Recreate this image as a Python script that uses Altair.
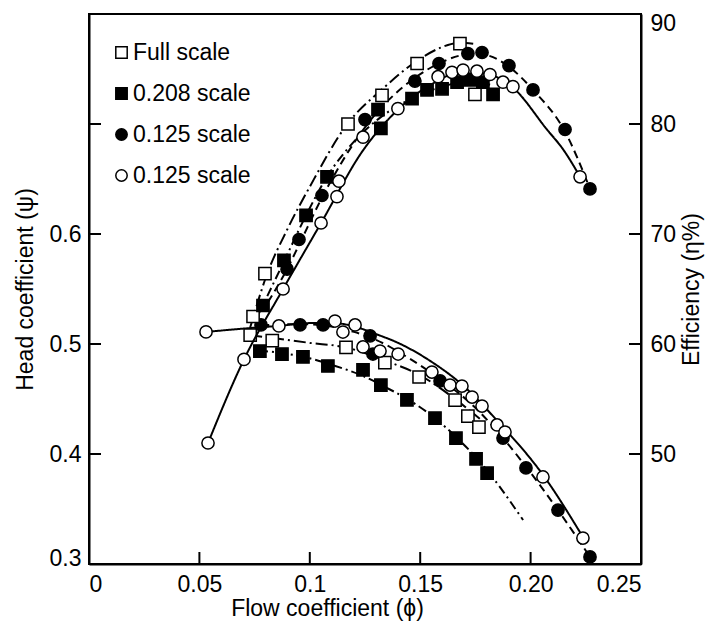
import altair as alt
import pandas as pd

FONT = "Liberation Sans"

# ---------------- series names ----------------
SERIES = ["Full scale", "0.208 scale", "0.125 scale", "0.125 scale "]
DASHES = [[12, 4, 2, 4], [9, 4, 2, 4], [8, 5], [1, 0]]

# ---------------- efficiency markers (right axis, %) ----------------
fs_eff_phi = [0.0743, 0.0797, 0.1173, 0.1327, 0.1486, 0.168, 0.1748]
fs_eff_val = [62.5, 66.4, 80.0, 82.6, 85.5, 87.3, 82.7]
s2_eff_phi = [0.0788, 0.0883, 0.0983, 0.1078, 0.1309, 0.1322, 0.1463, 0.1531, 0.1599, 0.1667, 0.1726, 0.1784, 0.183]
s2_eff_val = [63.5, 67.6, 71.7, 75.2, 81.3, 79.6, 82.3, 83.1, 83.2, 83.8, 84.0, 83.8, 82.7]
cf_eff_phi = [0.0897, 0.0951, 0.1055, 0.125, 0.1476, 0.1585, 0.1716, 0.178, 0.1902, 0.2011, 0.2156, 0.2269]
cf_eff_val = [66.8, 69.5, 73.5, 80.4, 83.9, 85.5, 86.4, 86.5, 85.3, 83.1, 79.5, 74.1]
co_eff_phi = [0.0539, 0.0702, 0.0879, 0.1051, 0.1123, 0.1132, 0.1241, 0.1399, 0.1581, 0.1644, 0.1694, 0.1757, 0.1816, 0.1875, 0.192, 0.2224]
co_eff_val = [51.0, 58.6, 65.0, 71.0, 73.4, 74.8, 78.8, 81.4, 84.3, 84.7, 84.9, 84.8, 84.5, 83.8, 83.4, 75.2]

# ---------------- head markers (left axis) ----------------
fs_head_phi = [0.073, 0.083, 0.1164, 0.134, 0.1495, 0.1658, 0.1716, 0.1766]
fs_head_val = [0.508, 0.503, 0.497, 0.483, 0.470, 0.449, 0.4345, 0.4245]
s2_head_phi = [0.0774, 0.0874, 0.0969, 0.1082, 0.1241, 0.1322, 0.144, 0.1567, 0.1662, 0.1753, 0.1803]
s2_head_val = [0.4936, 0.4909, 0.4882, 0.48, 0.4764, 0.4627, 0.4491, 0.4327, 0.4145, 0.3955, 0.3827]
cf_head_phi = [0.0779, 0.0956, 0.106, 0.1273, 0.1286, 0.159, 0.1875, 0.1979, 0.2124, 0.2269]
cf_head_val = [0.5173, 0.5173, 0.5173, 0.5073, 0.4909, 0.4664, 0.4145, 0.3873, 0.349, 0.3064]
co_head_phi = [0.053, 0.086, 0.1114, 0.115, 0.1205, 0.1241, 0.1318, 0.14, 0.1553, 0.1635, 0.1689, 0.1735, 0.178, 0.1848, 0.1884, 0.2056, 0.2237]
co_head_val = [0.511, 0.5164, 0.5209, 0.5109, 0.5173, 0.4973, 0.4936, 0.4909, 0.4745, 0.4627, 0.4618, 0.4518, 0.4436, 0.4264, 0.42, 0.3791, 0.3236]

# ---------------- fitted curves ----------------
fs_eff_line_phi = [0.073, 0.08, 0.09, 0.1, 0.117, 0.133, 0.149, 0.16, 0.168, 0.174]
fs_eff_line_val = [61.5, 66.0, 70.5, 74.3, 80.0, 83.2, 85.8, 87.0, 87.4, 87.3]
s2_eff_line_phi = [0.077, 0.0883, 0.0983, 0.1078, 0.12, 0.132, 0.146, 0.16, 0.172, 0.183]
s2_eff_line_val = [62.8, 67.5, 71.7, 75.2, 78.4, 80.6, 82.3, 83.4, 83.9, 83.5]
cf_eff_line_phi = [0.081, 0.0897, 0.0951, 0.1055, 0.125, 0.1476, 0.1585, 0.1716, 0.178, 0.1902, 0.2011, 0.2156, 0.2269]
cf_eff_line_val = [63.8, 66.8, 69.0, 73.3, 79.7, 84.2, 85.5, 86.3, 86.3, 85.2, 83.1, 79.3, 74.1]
co_eff_line_phi = [0.0539, 0.0702, 0.0879, 0.1051, 0.1241, 0.1399, 0.155, 0.167, 0.178, 0.192, 0.2074, 0.2147, 0.2224]
co_eff_line_val = [51.0, 58.6, 65.0, 71.0, 77.6, 81.3, 83.6, 84.6, 84.6, 83.3, 79.5, 77.7, 75.2]

fs_head_line_phi = [0.073, 0.085, 0.1, 0.116, 0.134, 0.1495, 0.1658, 0.177]
fs_head_line_val = [0.508, 0.505, 0.501, 0.497, 0.485, 0.472, 0.45, 0.432]
s2_head_line_phi = [0.077, 0.09, 0.1, 0.11, 0.124, 0.134, 0.145, 0.157, 0.167, 0.177, 0.1966]
s2_head_line_val = [0.494, 0.491, 0.487, 0.481, 0.471, 0.461, 0.449, 0.432, 0.414, 0.393, 0.34]
cf_head_line_phi = [0.078, 0.096, 0.106, 0.12, 0.1286, 0.145, 0.159, 0.175, 0.1875, 0.1979, 0.2124, 0.2269]
cf_head_line_val = [0.517, 0.518, 0.517, 0.511, 0.505, 0.487, 0.468, 0.442, 0.4145, 0.3885, 0.349, 0.3064]
co_head_line_phi = [0.053, 0.07, 0.086, 0.1, 0.111, 0.12, 0.13, 0.14, 0.155, 0.169, 0.185, 0.2056, 0.2237]
co_head_line_val = [0.511, 0.514, 0.5165, 0.519, 0.519, 0.516, 0.509, 0.501, 0.484, 0.463, 0.43, 0.381, 0.3245]

# ---------------- axis ticks ----------------
x_tick_values = [0, 0.05, 0.1, 0.15, 0.2, 0.25]
x_inner_ticks = [0.05, 0.1, 0.15, 0.2]
head_label_values = [0.3, 0.4, 0.5, 0.6]
head_inner_ticks = [0.4, 0.5, 0.6, 0.7]
eff_label_values = [50, 60, 70, 80, 90]
eff_inner_ticks = [50, 60, 70, 80]


def frame(parts):
    rows = []
    for phis, vals, s in parts:
        for p, v in zip(phis, vals):
            rows.append({"phi": p, "val": v, "series": s})
    return pd.DataFrame(rows)


eff_pts = frame([(fs_eff_phi, fs_eff_val, SERIES[0]), (s2_eff_phi, s2_eff_val, SERIES[1]),
                 (cf_eff_phi, cf_eff_val, SERIES[2]), (co_eff_phi, co_eff_val, SERIES[3])])
head_pts = frame([(fs_head_phi, fs_head_val, SERIES[0]), (s2_head_phi, s2_head_val, SERIES[1]),
                  (cf_head_phi, cf_head_val, SERIES[2]), (co_head_phi, co_head_val, SERIES[3])])

eff_line_parts = [(fs_eff_line_phi, fs_eff_line_val), (s2_eff_line_phi, s2_eff_line_val),
                  (cf_eff_line_phi, cf_eff_line_val), (co_eff_line_phi, co_eff_line_val)]
head_line_parts = [(fs_head_line_phi, fs_head_line_val), (s2_head_line_phi, s2_head_line_val),
                   (cf_head_line_phi, cf_head_line_val), (co_head_line_phi, co_head_line_val)]

W, H = 552, 550
TICK = 12

x_enc = alt.X("phi:Q",
              scale=alt.Scale(domain=[0, 0.25], nice=False, zero=False),
              axis=alt.Axis(values=x_tick_values, ticks=False, grid=False,
                            labelExpr="datum.value == 0.2 ? '0.20' : format(datum.value, '')",
                            title="Flow coefficient (ϕ)", labelPadding=9,
                            titleX=238, titleY=44, titleAnchor="middle", titleBaseline="middle"))

y_head = alt.Y("val:Q",
               scale=alt.Scale(domain=[0.3, 0.8], nice=False, zero=False),
               axis=alt.Axis(orient="left", values=head_label_values, ticks=False, grid=False,
                             labelExpr="format(datum.value, '.1f')", labelFlush=True, labelFlushOffset=6,
                             title="Head coefficient (ψ)", labelPadding=8, titlePadding=12))

y_eff = alt.Y("val:Q",
              scale=alt.Scale(domain=[40, 90], nice=False, zero=False),
              axis=alt.Axis(orient="right", values=eff_label_values, ticks=False, grid=False,
                            labelFlush=True, labelFlushOffset=2,
                            title="Efficiency (η%)", titleAngle=270, labelPadding=9, titlePadding=28))

leg = alt.Legend(title=None, orient="none", legendX=21, legendY=27,
                 labelFontSize=23, labelFont=FONT, labelColor="black", symbolSize=130,
                 symbolStrokeWidth=1.5,
                 rowPadding=17, labelOffset=0, padding=0)

shape_enc = alt.Shape("series:N", scale=alt.Scale(domain=SERIES, range=["square", "square", "circle", "circle"]),
                      legend=leg)
fill_enc = alt.Fill("series:N", scale=alt.Scale(domain=SERIES, range=["white", "black", "black", "white"]),
                    legend=leg)
stroke_enc = alt.Stroke("series:N", scale=alt.Scale(domain=SERIES, range=["black", "black", "black", "black"]),
                        legend=leg)


def line_layers(parts, y):
    layers = []
    for (phis, vals), dash in zip(parts, DASHES):
        df = pd.DataFrame({"phi": phis, "val": vals})
        layers.append(alt.Chart(df).mark_line(color="black", strokeWidth=2, interpolate="monotone",
                                              strokeDash=dash).encode(x=x_enc, y=y))
    return layers


def points_layer(df, y):
    return alt.Chart(df).mark_point(filled=True, strokeWidth=1.5, size=150, opacity=1).encode(
        x=x_enc, y=y, shape=shape_enc, fill=fill_enc, stroke=stroke_enc)


x_ticks = alt.Chart(pd.DataFrame({"phi": x_inner_ticks})).mark_rule(color="black", strokeWidth=2).encode(
    x=x_enc, y=alt.value(H), y2=alt.value(H - TICK))
left_ticks = alt.Chart(pd.DataFrame({"val": head_inner_ticks})).mark_rule(color="black", strokeWidth=2).encode(
    y=y_head, x=alt.value(0), x2=alt.value(TICK))
right_ticks = alt.Chart(pd.DataFrame({"val": eff_inner_ticks})).mark_rule(color="black", strokeWidth=2).encode(
    y=y_eff, x=alt.value(W - TICK), x2=alt.value(W))

head_group = alt.layer(*line_layers(head_line_parts, y_head), points_layer(head_pts, y_head), left_ticks, x_ticks)
eff_group = alt.layer(*line_layers(eff_line_parts, y_eff), points_layer(eff_pts, y_eff), right_ticks)

chart = alt.layer(head_group, eff_group).resolve_scale(y="independent").properties(
    width=W, height=H,
    autosize=alt.AutoSizeParams(type="none"),
    padding={"left": 81, "top": 6, "right": 65, "bottom": 57},
    background="white",
).configure_view(stroke="black", strokeWidth=2).configure_axis(
    labelFont=FONT, titleFont=FONT, labelFontSize=23, titleFontSize=23,
    labelColor="black", titleColor="black", titleFontWeight="normal",
    domainColor="black", domainWidth=2,
)

chart.save("out.html", embed_options={"renderer": "svg", "actions": False})
